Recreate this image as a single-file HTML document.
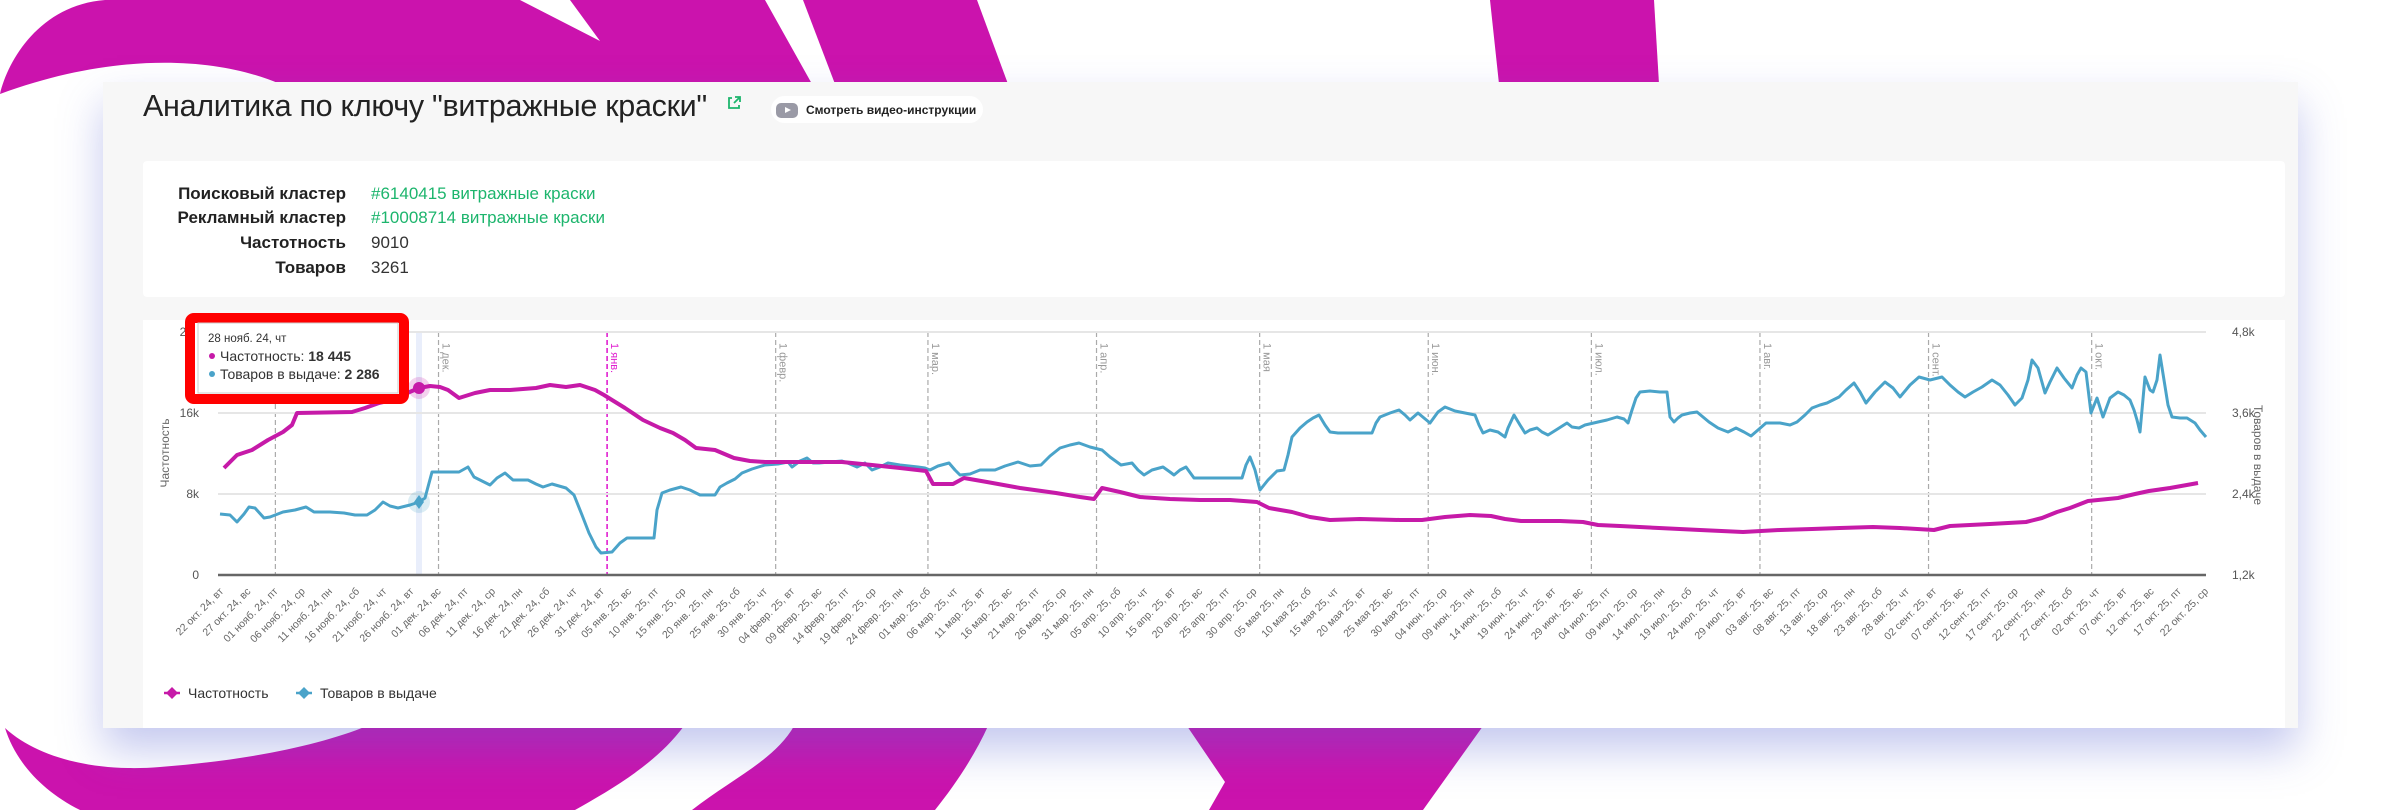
<!DOCTYPE html>
<html><head><meta charset="utf-8">
<style>
html,body{margin:0;padding:0;width:2400px;height:810px;overflow:hidden;background:#fff;font-family:"Liberation Sans",Arial,sans-serif;}
#bg{position:absolute;left:0;top:0}
.card{position:absolute;left:103px;top:82px;width:2195px;height:646px;background:#f7f7f7;box-shadow:0 22px 40px rgba(90,100,210,0.35);}
.title{position:absolute;left:143px;top:89px;font-size:30.5px;color:#222;white-space:nowrap;letter-spacing:-0.3px}
.btn{position:absolute;left:771px;top:96px;width:212px;height:27px;background:#fff;border-radius:14px;}
.btn i{position:absolute;left:5px;top:7px;width:22px;height:15px;background:#9a9aa6;border-radius:5px}
.btn i:after{content:"";position:absolute;left:9px;top:4px;border-left:6px solid #fff;border-top:3.5px solid transparent;border-bottom:3.5px solid transparent}
.btn span{position:absolute;left:35px;top:7px;font-size:12px;font-weight:bold;color:#222;white-space:nowrap}
.info{position:absolute;left:143px;top:161px;width:2142px;height:136px;background:#fff;border-radius:4px}
.row{position:absolute;left:0;width:800px;height:22px;font-size:17px;white-space:nowrap}
.row b{position:absolute;left:0;width:203px;color:#222;text-align:right}
.row span{position:absolute;left:228px;color:#333}
.row span.g{color:#1db56d}
.chart{position:absolute;left:143px;top:320px;width:2142px;height:408px;background:#fff}
#c{position:absolute;left:0;top:0}
</style></head><body>
<svg id="bg" width="2400" height="810">
<g fill="#cb13ad">
<path d="M0,94 C8,60 40,5 105,0 L520,0 L600,41 L570,0 L765,0 L812,84 L280,84 C220,58 120,50 0,94 Z"/>
<path d="M803,0 L977,0 L1008,84 L835,84 Z"/>
<path d="M1490,0 L1654,0 L1659,84 L1499,84 Z"/>
<path d="M367,726 L684,726 C655,765 610,790 575,810 L80,810 C40,790 15,760 5,728 C40,760 100,772 160,767 C250,760 320,745 367,726 Z"/>
<path d="M794,726 L988,726 C975,755 955,785 935,810 L692,810 C730,780 775,760 794,726 Z"/>
<path d="M1187,726 L1483,726 L1423,810 L1209,810 L1225,782 Z"/>
</g>
</svg>
<div class="card"></div>
<div class="title">Аналитика по ключу "витражные краски"</div>
<svg style="position:absolute;left:726px;top:95px" width="16" height="16"><path d="M6,3 H3 V13 H13 V10" fill="none" stroke="#1db56d" stroke-width="1.8"/><path d="M8,8 L14,2 M9,2 H14 V7" fill="none" stroke="#1db56d" stroke-width="1.8"/></svg>
<div class="btn"><i></i><span>Смотреть видео-инструкции</span></div>
<div class="info">
<div class="row" style="top:23px"><b>Поисковый кластер</b><span class="g">#6140415 витражные краски</span></div>
<div class="row" style="top:47px"><b>Рекламный кластер</b><span class="g">#10008714 витражные краски</span></div>
<div class="row" style="top:72px"><b>Частотность</b><span>9010</span></div>
<div class="row" style="top:97px"><b>Товаров</b><span>3261</span></div>
</div>
<div class="chart"></div>
<svg id="c" width="2400" height="810" font-family="Liberation Sans, Arial, sans-serif">
<g id="grid"></g>
<rect x="416" y="332" width="6" height="243" fill="#e9eefb"/>
<g stroke="#e6e6e6" stroke-width="2"><line x1="218" y1="332" x2="2206" y2="332"/><line x1="218" y1="413" x2="2206" y2="413"/><line x1="218" y1="494" x2="2206" y2="494"/></g>
<line x1="218" y1="575" x2="2206" y2="575" stroke="#666" stroke-width="2.5"/>
<g font-size="12" fill="#555">
<text x="199" y="417" text-anchor="end">16k</text><text x="199" y="498" text-anchor="end">8k</text><text x="199" y="579" text-anchor="end">0</text><text x="199" y="336" text-anchor="end">24k</text>
<text x="2232" y="336">4,8k</text><text x="2232" y="417">3,6k</text><text x="2232" y="498">2,4k</text><text x="2232" y="579">1,2k</text>
<text transform="translate(169,453) rotate(-90)" text-anchor="middle" fill="#666">Частотность</text>
<text transform="translate(2254,455) rotate(90)" text-anchor="middle" fill="#666">Товаров в выдаче</text>
</g>
<polyline fill="none" stroke="#4aa3c9" stroke-width="3" stroke-linejoin="round" points="220,514 230,515 237,522 244,514 249,507 255,508 264,518 270,517 283,512 295,510 306,507 314,512 330,512 344,513 355,515 367,515 375,510 383,502 390,506 398,508 410,505 419,502 425,498 432,472 445,472 459,472 468,467 474,477 482,481 490,485 497,478 505,473 513,480 528,480 536,484 543,487 552,484 566,488 574,495 582,515 589,533 596,547 601,553 612,552 620,543 627,538 654,538 657,510 662,493 670,490 681,487 690,490 700,495 715,495 720,487 727,483 735,479 742,473 752,469 765,465 778,464 788,462 792,467 800,461 807,458 813,463 819,463 830,462 842,461 850,464 857,467 865,463 872,470 880,467 888,463 900,465 918,467 925,468 930,470 938,466 949,463 955,470 960,475 970,474 980,470 995,470 1005,466 1018,462 1030,466 1041,465 1050,456 1060,448 1070,445 1079,443 1090,447 1102,450 1110,457 1121,465 1132,463 1138,470 1144,475 1152,470 1163,467 1170,472 1174,475 1180,470 1186,467 1194,478 1200,478 1220,478 1242,478 1246,465 1250,457 1255,470 1260,490 1268,480 1277,471 1284,470 1288,455 1292,437 1300,428 1307,422 1313,418 1319,415 1325,425 1330,432 1338,433 1372,433 1376,423 1380,417 1390,413 1399,410 1405,415 1410,420 1418,413 1424,418 1430,423 1438,412 1445,407 1455,411 1465,413 1475,415 1479,425 1483,433 1490,430 1498,432 1505,437 1508,428 1514,415 1520,425 1525,433 1530,430 1537,428 1542,432 1548,435 1556,430 1567,423 1572,427 1579,428 1585,425 1598,422 1607,420 1617,417 1624,419 1628,423 1632,410 1636,398 1640,392 1650,391 1660,392 1667,392 1670,417 1674,422 1678,418 1682,415 1690,413 1697,412 1703,417 1709,422 1718,428 1728,432 1736,428 1744,432 1751,436 1758,430 1766,423 1780,423 1790,425 1797,422 1805,415 1812,408 1820,405 1827,403 1833,400 1839,397 1846,390 1854,383 1860,392 1866,403 1875,392 1885,382 1893,388 1900,397 1910,385 1919,377 1930,380 1942,377 1950,385 1958,392 1965,397 1973,392 1982,387 1992,380 2000,385 2008,395 2015,405 2022,398 2028,380 2032,360 2038,368 2045,393 2050,382 2057,368 2064,378 2072,388 2077,375 2081,368 2086,372 2091,413 2097,398 2103,417 2110,398 2118,392 2124,395 2130,400 2134,410 2137,420 2140,432 2145,377 2150,390 2153,392 2157,380 2160,355 2164,380 2168,405 2172,417 2180,418 2187,418 2195,423 2200,430 2206,437"/>
<polyline fill="none" stroke="#c61aa8" stroke-width="4" stroke-linejoin="round" points="224,468 237,455 252,450 268,440 283,432 292,425 297,413 352,412 365,408 379,403 392,400 405,394 419,388 430,386 440,387 448,390 459,398 475,393 490,390 510,390 536,388 550,385 566,387 580,385 595,390 604,395 612,400 625,408 643,420 660,428 673,433 685,440 696,448 715,450 734,458 750,461 765,462 800,462 842,462 872,465 900,468 926,471 933,484 953,484 964,478 987,482 1020,488 1056,493 1080,497 1094,499 1102,488 1120,492 1140,497 1170,499 1200,500 1230,500 1257,502 1269,508 1292,512 1310,517 1330,520 1360,519 1400,520 1422,520 1445,517 1470,515 1491,516 1505,519 1521,521 1560,521 1583,522 1598,525 1620,526 1659,528 1700,530 1743,532 1780,530 1812,529 1840,528 1873,527 1900,528 1934,530 1950,526 1990,524 2026,522 2042,518 2057,512 2070,508 2088,501 2118,498 2135,494 2149,491 2170,488 2198,483"/>
<circle cx="419" cy="388" r="11" fill="#c61aa8" opacity="0.2"/><circle cx="419" cy="388" r="6" fill="#c61aa8"/>
<circle cx="419" cy="502" r="11" fill="#4aa3c9" opacity="0.2"/><path d="M419,495 L424,502 L419,509 L414,502 Z" fill="#4aa3c9"/>
<g id="ticks" font-size="10.5" fill="#666"></g>
<g font-size="14" fill="#333">
<line x1="164" y1="693" x2="180" y2="693" stroke="#c61aa8" stroke-width="2.5"/><path d="M172,687 L178,693 L172,699 L166,693 Z" fill="#c61aa8"/>
<text x="188" y="698">Частотность</text>
<line x1="296" y1="693" x2="312" y2="693" stroke="#4aa3c9" stroke-width="2.5"/><path d="M304,687 L310,693 L304,699 L298,693 Z" fill="#4aa3c9"/>
<text x="320" y="698">Товаров в выдаче</text>
</g>
<rect x="190" y="318" width="214" height="81" rx="4" fill="#fff" stroke="#ff0000" stroke-width="10"/>
<rect x="198" y="323" width="200" height="70" fill="#fff" stroke="#ccc" stroke-width="1"/>
<text x="208" y="342" font-size="11.5" fill="#333">28 нояб. 24, чт</text>
<circle cx="212" cy="356" r="3" fill="#c61aa8"/><text x="220" y="361" font-size="14" fill="#333">Частотность: <tspan font-weight="bold">18 445</tspan></text>
<circle cx="212" cy="374" r="3" fill="#4aa3c9"/><text x="220" y="379" font-size="14" fill="#333">Товаров в выдаче: <tspan font-weight="bold">2 286</tspan></text>
</svg>
<script>
var NS="http://www.w3.org/2000/svg";
function x(d){return 221+d*5.438;}
var grid=document.getElementById("grid");
var months=[[10,""],[40,"1 дек."],[71,"1 янв."],[102,"1 февр."],[130,"1 мар."],[161,"1 апр."],[191,"1 мая"],[222,"1 июн."],[252,"1 июл."],[283,"1 авг."],[314,"1 сент."],[344,"1 окт."]];
months.forEach(function(m){
 var col=m[1]=="1 янв."?"#e020d0":"#aaa";
 var l=document.createElementNS(NS,"line");var xx=x(m[0]);
 l.setAttribute("x1",xx);l.setAttribute("x2",xx);l.setAttribute("y1",332);l.setAttribute("y2",575);
 l.setAttribute("stroke",col);l.setAttribute("stroke-width",m[1]=="1 янв."?1.6:1.2);l.setAttribute("stroke-dasharray","5,3");
 grid.appendChild(l);
 if(m[1]){var t=document.createElementNS(NS,"text");t.setAttribute("transform","translate("+(xx+4)+",343) rotate(90)");
 t.setAttribute("font-size","11");t.setAttribute("fill",m[1]=="1 янв."?"#e020d0":"#999");t.textContent=m[1];grid.appendChild(t);}
});
var mn=["янв.","февр.","мар.","апр.","мая","июн.","июл.","авг.","сент.","окт.","нояб.","дек."];
var dw=["вс","пн","вт","ср","чт","пт","сб"];
var tk=document.getElementById("ticks");
var start=Date.UTC(2024,9,22);
for(var d=0;d<=365;d+=5){
 var dt=new Date(start+d*86400000);
 var s=("0"+dt.getUTCDate()).slice(-2)+" "+mn[dt.getUTCMonth()]+" "+String(dt.getUTCFullYear()).slice(2)+", "+dw[dt.getUTCDay()];
 var t=document.createElementNS(NS,"text");
 t.setAttribute("transform","translate("+(x(d)+3)+",592) rotate(-45)");
 t.setAttribute("text-anchor","end");t.textContent=s;tk.appendChild(t);
}
</script>
</body></html>
